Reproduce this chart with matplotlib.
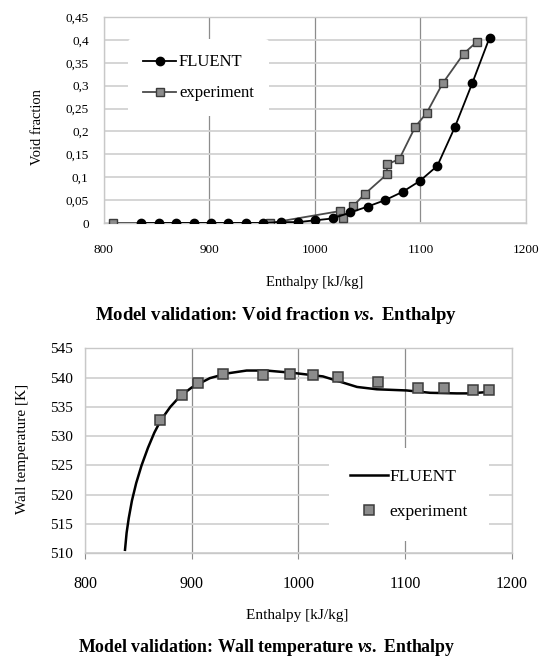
import matplotlib
matplotlib.use("Agg")
import matplotlib.pyplot as plt

plt.rcParams['font.family'] = ['Liberation Serif', 'DejaVu Serif']
plt.rcParams['mathtext.fontset'] = 'custom'
plt.rcParams['mathtext.it'] = 'Liberation Serif:italic:bold'
plt.rcParams['mathtext.rm'] = 'Liberation Serif:bold'

# void fraction vs enthalpy
fluent_h = [835.5, 852, 868.5, 885, 901.5, 918, 934.5, 951, 967.5, 984, 1000.5,
            1017, 1033.5, 1050, 1066.5, 1083, 1099.5, 1116, 1132.5, 1149, 1165.5]
fluent_void = [0, 0, 0, 0, 0, 0, 0, 0, 0.002, 0.002, 0.006,
               0.010, 0.023, 0.036, 0.050, 0.068, 0.092, 0.125, 0.209, 0.305, 0.405]
exp_h = [808.5, 957.5, 1023.5, 1027, 1036.5, 1047.5, 1068, 1068.5, 1080,
         1095, 1106, 1121, 1141, 1153.5]
exp_void = [0, 0, 0.026, 0.011, 0.038, 0.064, 0.106, 0.128, 0.140,
            0.210, 0.241, 0.305, 0.370, 0.396]

# wall temperature vs enthalpy
fluent_h2 = [837.5, 839, 841, 844, 848, 853, 859, 865, 871, 880, 889, 900, 917, 933,
             951.5, 970, 995, 1023, 1039, 1055, 1073.5, 1101.5, 1123.5, 1148.5,
             1161, 1175]
fluent_tw = [510.6, 513.5, 516.0, 519.0, 522.0, 525.0, 528.0, 530.6, 532.7, 535.0,
             536.8, 538.3, 539.9, 540.7, 541.2, 541.2, 540.8, 540.2, 539.3, 538.4,
             538.0, 537.8, 537.4, 537.3, 537.3, 537.5]
exp_h2 = [870.5, 890.7, 905.5, 929.8, 967, 991.7, 1014, 1037.3, 1074.8,
          1112, 1136.3, 1163.5, 1179]
exp_tw = [532.7, 537.1, 539.0, 540.6, 540.5, 540.6, 540.5, 540.1, 539.2,
          538.2, 538.2, 537.8, 537.9]

x_ticks = [800, 900, 1000, 1100, 1200]
void_ticks = [0, 0.05, 0.1, 0.15, 0.2, 0.25, 0.3, 0.35, 0.4, 0.45]
void_labels = ['0', '0,05', '0,1', '0,15', '0,2', '0,25', '0,3', '0,35', '0,4', '0,45']
tw_ticks = [510, 515, 520, 525, 530, 535, 540, 545]

fig = plt.figure(figsize=(5.47, 6.61), dpi=100)
ax1 = fig.add_axes([0.190, 0.6626, 0.7716, 0.3117])
ax2 = fig.add_axes([0.1554, 0.1629, 0.7801, 0.3102])


def style_axes(ax):
    for s in ax.spines.values():
        s.set_color('#c8c8c8')
        s.set_linewidth(1.0)
    ax.grid(axis='y', color='#d2d2d2', linewidth=1.3)
    ax.grid(axis='x', color='#8c8c8c', linewidth=0.9)
    gl = ax.get_xgridlines()
    gl[0].set_color('#c8c8c8')
    gl[-1].set_color('#c8c8c8')
    ax.set_axisbelow(True)


def white_legend(leg):
    frame = leg.get_frame()
    frame.set_edgecolor('none')
    frame.set_facecolor('white')
    frame.set_alpha(1)


# top: void fraction
ax1.set_xlim(800, 1200)
ax1.set_ylim(0, 0.45)
ax1.set_xticks(x_ticks)
ax1.set_yticks(void_ticks)
ax1.set_yticklabels(void_labels)
style_axes(ax1)
ax1.plot(fluent_h, fluent_void, color='black', linewidth=1.3, marker='o',
         markersize=6, label='FLUENT', zorder=4)
ax1.plot(exp_h, exp_void, color='#4a4a4a', linewidth=1.3, marker='s',
         markersize=5.5, markerfacecolor='#8c8c8c', markeredgecolor='#3c3c3c',
         label='experiment', zorder=3)
ax1.tick_params(axis='y', length=0, pad=11, labelsize=9.5)
ax1.tick_params(axis='x', length=0, pad=15, labelsize=9.5)
ax1.set_xlabel('Enthalpy [kJ/kg]', fontsize=10.5)
ax1.xaxis.set_label_coords(0.5, -0.255)
ax1.set_ylabel('Void fraction', fontsize=10.5)
ax1.yaxis.set_label_coords(-0.142, 0.466)
leg1 = ax1.legend(loc='center', bbox_to_anchor=(0.224, 0.704), frameon=True,
                  fontsize=12, handlelength=2.0, handletextpad=0.15,
                  labelspacing=0.9, borderpad=0.9)
white_legend(leg1)

# bottom: wall temperature
ax2.set_xlim(800, 1200)
ax2.set_ylim(510, 545)
ax2.set_xticks(x_ticks)
ax2.set_yticks(tw_ticks)
style_axes(ax2)
ax2.plot(fluent_h2, fluent_tw, color='black', linewidth=1.8, label='FLUENT', zorder=3)
ax2.plot(exp_h2, exp_tw, linestyle='none', marker='s', markersize=7,
         markerfacecolor='#8c8c8c', markeredgecolor='#3c3c3c', markeredgewidth=1.1,
         label='experiment', zorder=4)
ax2.tick_params(axis='y', length=0, pad=9, labelsize=11)
ax2.tick_params(axis='x', length=4, width=0.8, color='#8c8c8c', pad=12, labelsize=11.5)
ax2.set_xlabel('Enthalpy [kJ/kg]', fontsize=11)
ax2.xaxis.set_label_coords(0.498, -0.272)
ax2.set_ylabel('Wall temperature [K]', fontsize=11)
ax2.yaxis.set_label_coords(-0.131, 0.509)
leg2 = ax2.legend(loc='center', bbox_to_anchor=(0.759, 0.287), frameon=True,
                  fontsize=12.5, handlelength=2.2, handletextpad=0.1,
                  labelspacing=1.05, borderpad=1.2)
white_legend(leg2)

# captions below each chart
fig.text(0.505, 1 - 315 / 661, 'Model validation: Void fraction $vs.$ Enthalpy',
         ha='center', va='center', fontsize=13.5, fontweight='bold')
fig.text(0.488, 1 - 648 / 661, 'Model validation: Wall temperature $vs.$ Enthalpy',
         ha='center', va='center', fontsize=12.8, fontweight='bold')

fig.savefig('out.png', dpi=100)
